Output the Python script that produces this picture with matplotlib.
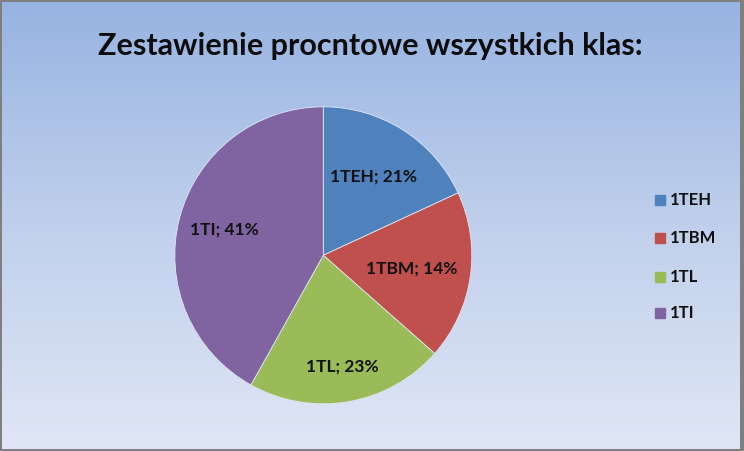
import numpy as np
import matplotlib
matplotlib.use("Agg")
import matplotlib.pyplot as plt
from matplotlib.patches import Rectangle
from matplotlib.colors import LinearSegmentedColormap

# ---- data ----
categories = ["1TEH", "1TBM", "1TL", "1TI"]
shares = [18.1, 18.4, 21.6, 41.9]          # slice sizes as drawn in the picture
pct_labels = [21, 14, 23, 41]              # percentages printed on the slices
title = "Zestawienie procntowe wszystkich klas:"

colors = ["#4F81BD", "#C0504D", "#9BBB59", "#8064A2"]
label_r = [0.63, 0.60, 0.76, 0.69]

W, H = 744, 451
fig = plt.figure(figsize=(W / 100, H / 100), dpi=100)

# gradient background
bg = fig.add_axes([0, 0, 1, 1], zorder=-10)
cmap = LinearSegmentedColormap.from_list("bg", ["#97B3E2", "#C0D0EC", "#E0E6F5"])
grad = np.linspace(0, 1, 256).reshape(-1, 1)
bg.imshow(grad, aspect="auto", cmap=cmap, extent=[0, 1, 0, 1], origin="upper")
bg.set_xlim(0, 1); bg.set_ylim(0, 1); bg.axis("off")

# border
for (x, y, w, h) in [(0, 0, 2 / W, 1), (0, 1 - 2 / H, 1, 2 / H),
                     (1 - 4 / W, 0, 4 / W, 1), (0, 0, 1, 2 / H)]:
    bg.add_patch(Rectangle((x, y), w, h, color="#7F7F7F", lw=0, zorder=5))

fig.text(370 / W, 1 - 46 / H, title, ha="center", va="center",
         fontsize=22, fontweight="bold", family=["Lato", "DejaVu Sans"], color="#0d0d0d")

cx, cy, R = 323.3, 255.3, 148.5
ax = fig.add_axes([(cx - R) / W, (H - cy - R) / H, 2 * R / W, 2 * R / H])
wedges, _ = ax.pie(shares, colors=colors, startangle=90, counterclock=False,
                   radius=1, wedgeprops=dict(linewidth=0.6, edgecolor="#dfe6f3"))
for w, cat, p, r in zip(wedges, categories, pct_labels, label_r):
    ang = np.deg2rad((w.theta1 + w.theta2) / 2)
    ax.text(r * np.cos(ang), r * np.sin(ang), f"{cat}; {p}%", ha="center", va="center",
            fontsize=12.5, fontweight="bold", family=["Lato", "DejaVu Sans"], color="#111111")
ax.set_xlim(-1, 1); ax.set_ylim(-1, 1)
ax.set_aspect("equal")
ax.axis("off")

# legend
leg_y = [200, 238, 277, 313]
for cat, col, yy in zip(categories, colors, leg_y):
    fig.patches.append(Rectangle((655 / W, 1 - (yy + 5) / H), 10 / W, 10 / H,
                                 transform=fig.transFigure, color=col, figure=fig))
    fig.text(670 / W, 1 - yy / H, cat, ha="left", va="center", fontsize=12,
             fontweight="bold", family=["Lato", "DejaVu Sans"], color="#111111")

fig.savefig("out.png", dpi=100)
